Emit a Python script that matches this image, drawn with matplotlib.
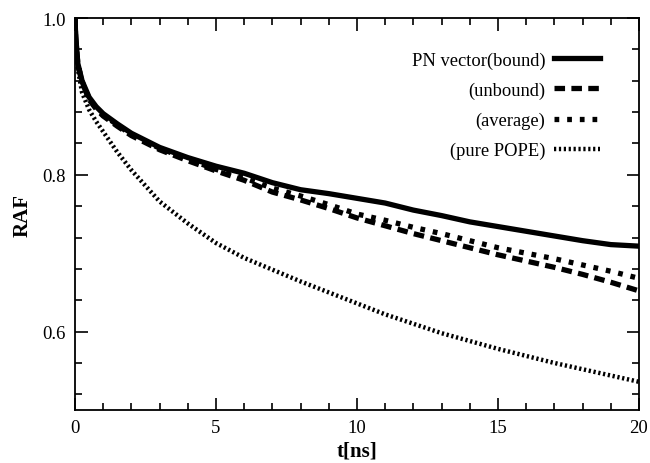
import numpy as np
import matplotlib
matplotlib.use("Agg")
import matplotlib.pyplot as plt
from matplotlib.ticker import MultipleLocator

plt.rcParams['font.family'] = ['Liberation Serif', 'DejaVu Serif']

# datos
t = [0, 0.02, 0.05, 0.1, 0.25, 0.5, 0.75, 1, 1.5, 2, 3, 4, 5, 6, 7, 8, 9, 10,
     11, 12, 13, 14, 15, 16, 17, 18, 19, 20]
bound = [1.0, 0.98, 0.965, 0.942, 0.92, 0.899, 0.887, 0.878, 0.865, 0.853,
         0.835, 0.822, 0.811, 0.802, 0.790, 0.781, 0.776, 0.770, 0.764,
         0.755, 0.748, 0.740, 0.734, 0.728, 0.722, 0.716, 0.711, 0.709]
unbound = [1.0, 0.979, 0.963, 0.94, 0.918, 0.896, 0.884, 0.875, 0.862, 0.850,
           0.832, 0.818, 0.805, 0.793, 0.778, 0.768, 0.757, 0.745, 0.735,
           0.725, 0.716, 0.707, 0.698, 0.690, 0.682, 0.673, 0.663, 0.652]
average = [1.0, 0.979, 0.964, 0.941, 0.919, 0.897, 0.885, 0.876, 0.864, 0.851,
           0.834, 0.820, 0.807, 0.796, 0.783, 0.773, 0.762, 0.750, 0.742,
           0.733, 0.725, 0.716, 0.707, 0.700, 0.693, 0.685, 0.677, 0.668]
pope = [1.0, 0.975, 0.955, 0.935, 0.905, 0.883, 0.868, 0.855, 0.829, 0.806,
        0.766, 0.738, 0.713, 0.694, 0.679, 0.664, 0.650, 0.636, 0.622,
        0.610, 0.598, 0.588, 0.578, 0.569, 0.560, 0.552, 0.544, 0.536]
labels = ['PN vector(bound)', '(unbound)', '(average)', '(pure POPE)']

fig = plt.figure(figsize=(6.5, 4.64), dpi=100)
ax = fig.add_axes([0.1154, 0.1142, 0.8676, 0.8448])

ax.plot(t, bound, color='k', lw=3.8, ls='-', label=labels[0])
ax.plot(t, unbound, color='k', lw=3.8, ls=(0, (2.0, 1.2)), label=labels[1])
ax.plot(t, average, color='k', lw=3.8, ls=(0, (0.9, 1.5)), label=labels[2])
ax.plot(t, pope, color='k', lw=3.2, ls=(0, (0.5, 0.6)), label=labels[3])

ax.set_xlim(0, 20)
ax.set_ylim(0.5, 1.0)
ax.xaxis.set_minor_locator(MultipleLocator(1))
ax.yaxis.set_minor_locator(MultipleLocator(0.04))
ax.set_xticks([0, 5, 10, 15, 20])
ax.set_xticklabels(['0', '5', '10', '15', '20'])
ax.set_yticks([0.6, 0.8, 1.0])
ax.set_yticklabels(['0.6', '0.8', '1.0'])
ax.tick_params(which='both', direction='in', top=True, right=True,
               labelsize=13.5, width=1.2)
ax.tick_params(axis='x', pad=6.5)
ax.tick_params(axis='y', pad=6.5)
ax.tick_params(which='major', length=9)
ax.tick_params(which='minor', length=5)
for s in ax.spines.values():
    s.set_linewidth(1.3)

ax.set_xlabel('t[ns]', fontsize=15, fontweight='bold', labelpad=3)
ax.set_ylabel('RAF', fontsize=15, fontweight='bold', labelpad=7)

ax.legend(loc='upper right', bbox_to_anchor=(0.931, 0.915), frameon=False,
          markerfirst=False, fontsize=13.3, handlelength=2.5,
          handletextpad=0.45, labelspacing=0.7, borderaxespad=0,
          borderpad=0)

fig.savefig('out.png', dpi=100)
